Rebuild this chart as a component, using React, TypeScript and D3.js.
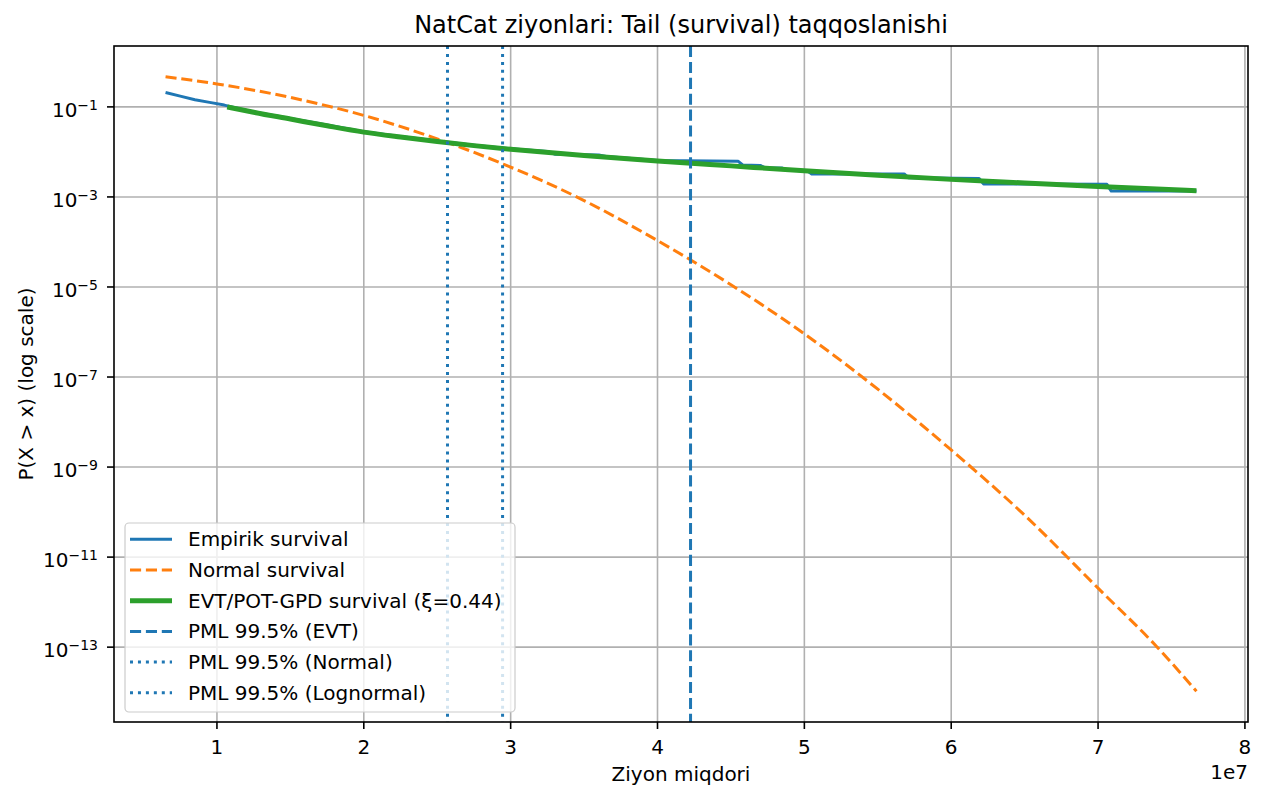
import React from "react";
import * as d3 from "d3";

// ---- data (x in loss units, y as log10 of survival probability) ----
const empX = [0.65e7, 0.75e7, 0.85e7, 0.95e7, 1.05e7, 1.10e7, 1.25e7, 1.50e7, 1.75e7, 2.00e7, 2.25e7, 2.50e7, 2.75e7, 3.00e7, 3.25e7, 3.30e7, 3.60e7, 3.65e7, 4.00e7, 4.55e7, 4.58e7, 4.70e7, 4.73e7, 4.85e7, 4.88e7, 5.02e7, 5.05e7, 5.68e7, 5.71e7, 6.19e7, 6.22e7, 7.06e7, 7.09e7, 7.67e7];
const empLog = [-0.68, -0.76, -0.84, -0.90, -0.96, -1.00, -1.11, -1.26, -1.40, -1.55, -1.66, -1.76, -1.85, -1.93, -1.99, -2.05, -2.07, -2.10, -2.19, -2.21, -2.29, -2.30, -2.35, -2.36, -2.41, -2.42, -2.49, -2.49, -2.575, -2.59, -2.71, -2.72, -2.87, -2.87];

const normX = [0.65e7, 1.0e7, 1.5e7, 2.0e7, 2.5e7, 2.95e7, 3.5e7, 4.0e7, 4.5e7, 5.0e7, 5.5e7, 6.0e7, 6.5e7, 7.0e7, 7.4e7, 7.67e7];
const normLog = [-0.33, -0.49, -0.79, -1.19, -1.71, -2.27, -3.08, -3.97, -4.95, -6.04, -7.27, -8.62, -10.07, -11.69, -12.99, -13.98];

const evtX = [1.07e7, 1.25e7, 1.5e7, 1.75e7, 2.0e7, 2.25e7, 2.5e7, 2.75e7, 3.0e7, 3.5e7, 4.0e7, 4.5e7, 5.0e7, 5.5e7, 6.0e7, 6.5e7, 7.0e7, 7.67e7];
const evtLog = [-1.00, -1.12, -1.27, -1.42, -1.56, -1.67, -1.77, -1.86, -1.94, -2.08, -2.20, -2.31, -2.42, -2.52, -2.61, -2.69, -2.77, -2.86];

const pmlEvt = 4.225e7;
const pmlNormal = 2.945e7;
const pmlLognormal = 2.57e7;

const xTicks = [1e7, 2e7, 3e7, 4e7, 5e7, 6e7, 7e7, 8e7];
const xTickLabels = ["1", "2", "3", "4", "5", "6", "7", "8"];
const yTickExps = [-1, -3, -5, -7, -9, -11, -13];

const legendLabels = [
  "Empirik survival",
  "Normal survival",
  "EVT/POT-GPD survival (ξ=0.44)",
  "PML 99.5% (EVT)",
  "PML 99.5% (Normal)",
  "PML 99.5% (Lognormal)",
];

const title = "NatCat ziyonlari: Tail (survival) taqqoslanishi";
const xLabel = "Ziyon miqdori";
const yLabel = "P(X > x) (log scale)";

// ---- layout ----
const W = 1262, H = 785;
const L = 114, R = 1248, T = 46, B = 722;
const FONT = "DejaVu Sans";
const C0 = "#1f77b4", C1 = "#ff7f0e", C2 = "#2ca02c";

export default function App() {
  const allX = [...empX, ...normX, ...evtX];
  const allLog = [...empLog, ...normLog, ...evtLog];
  const [x0, x1] = d3.extent(allX) as [number, number];
  const [l0, l1] = d3.extent(allLog) as [number, number];
  const xp = (x1 - x0) * 0.05;
  const lp = (l1 - l0) * 0.05;
  const x = d3.scaleLinear().domain([x0 - xp, x1 + xp]).range([L, R]);
  const y = d3.scaleLog().domain([Math.pow(10, l0 - lp), Math.pow(10, l1 + lp)]).range([B, T]);

  const mk = (xs: number[], ls: number[]) => xs.map((v, i) => [v, Math.pow(10, ls[i])] as [number, number]);
  const emp = mk(empX, empLog);
  const norm = mk(normX, normLog);
  const evt = mk(evtX, evtLog);

  const straight = d3.line<[number, number]>().x(d => x(d[0])).y(d => y(d[1]));
  const smooth = d3.line<[number, number]>().x(d => x(d[0])).y(d => y(d[1])).curve(d3.curveMonotoneX);

  const vlines = [
    { v: pmlEvt, dash: "11.1,4.8" },
    { v: pmlNormal, dash: "3,4.95" },
    { v: pmlLognormal, dash: "3,4.95" },
  ];

  const legX = 125, legY = 523, legW = 390, legH = 189;
  const rowY = (i: number) => 539.3 + i * 30.7;
  const handles = [
    { color: C0, w: 3, dash: undefined as string | undefined },
    { color: C1, w: 3, dash: "11.1,4.8" },
    { color: C2, w: 5, dash: undefined },
    { color: C0, w: 3, dash: "11.1,4.8" },
    { color: C0, w: 3, dash: "3,4.95" },
    { color: C0, w: 3, dash: "3,4.95" },
  ];

  return (
    <div style={{ position: "absolute", left: 0, top: 0 }}>
      <svg width={W} height={H} style={{ display: "block", background: "#fff" }} fontFamily={FONT}>
        <rect x={0} y={0} width={W} height={H} fill="#fff" />
        <defs>
          <clipPath id="plotclip">
            <rect x={L} y={T} width={R - L} height={B - T} />
          </clipPath>
        </defs>
        {/* grid */}
        {xTicks.map(t => (
          <line key={"gx" + t} x1={x(t)} x2={x(t)} y1={T} y2={B} stroke="#b0b0b0" strokeWidth={1.6} />
        ))}
        {yTickExps.map(e => (
          <line key={"gy" + e} x1={L} x2={R} y1={y(Math.pow(10, e))} y2={y(Math.pow(10, e))} stroke="#b0b0b0" strokeWidth={1.6} />
        ))}
        <g clipPath="url(#plotclip)">
          <path d={straight(emp) || ""} fill="none" stroke={C0} strokeWidth={3} strokeLinejoin="round" strokeLinecap="butt" />
          <path d={smooth(norm) || ""} fill="none" stroke={C1} strokeWidth={3} strokeDasharray="11.1,4.8" />
          <path d={smooth(evt) || ""} fill="none" stroke={C2} strokeWidth={5} strokeLinejoin="round" />
          {vlines.map((l, i) => (
            <line key={"vl" + i} x1={x(l.v)} x2={x(l.v)} y1={T} y2={B} stroke={C0} strokeWidth={3} strokeDasharray={l.dash} />
          ))}
        </g>
        {/* spines */}
        <rect x={L} y={T} width={R - L} height={B - T} fill="none" stroke="#000" strokeWidth={1.6} />
        {/* x ticks */}
        {xTicks.map((t, i) => (
          <g key={"xt" + t}>
            <line x1={x(t)} x2={x(t)} y1={B} y2={B + 7} stroke="#000" strokeWidth={1.6} />
            <text x={x(t)} y={754} textAnchor="middle" fontSize={20} fill="#000">{xTickLabels[i]}</text>
          </g>
        ))}
        <text x={R} y={779} textAnchor="end" fontSize={20} fill="#000">1e7</text>
        {/* y ticks */}
        {yTickExps.map(e => {
          const yy = y(Math.pow(10, e));
          return (
            <g key={"yt" + e}>
              <line x1={L - 7} x2={L} y1={yy} y2={yy} stroke="#000" strokeWidth={1.6} />
              <text x={98} y={yy + 10} textAnchor="end" fontSize={20} fill="#000">
                10<tspan fontSize={14} dy={-7}>{"\u2212" + Math.abs(e)}</tspan>
              </text>
            </g>
          );
        })}
        {/* labels */}
        <text x={(L + R) / 2} y={33} textAnchor="middle" fontSize={24} fill="#000">{title}</text>
        <text x={(L + R) / 2} y={781} textAnchor="middle" fontSize={20} fill="#000">{xLabel}</text>
        <text transform={`translate(33,${(T + B) / 2}) rotate(-90)`} textAnchor="middle" fontSize={20} fill="#000">{yLabel}</text>
        {/* legend */}
        <rect x={legX} y={legY} width={legW} height={legH} rx={4} ry={4} fill="#fff" fillOpacity={0.8} stroke="#cccccc" strokeWidth={1.2} />
        {legendLabels.map((lab, i) => (
          <g key={"lg" + i}>
            <line x1={130} x2={172} y1={rowY(i)} y2={rowY(i)} stroke={handles[i].color} strokeWidth={handles[i].w} strokeDasharray={handles[i].dash} />
            <text x={188} y={rowY(i) + 7} fontSize={20} fill="#000">{lab}</text>
          </g>
        ))}
      </svg>
    </div>
  );
}
